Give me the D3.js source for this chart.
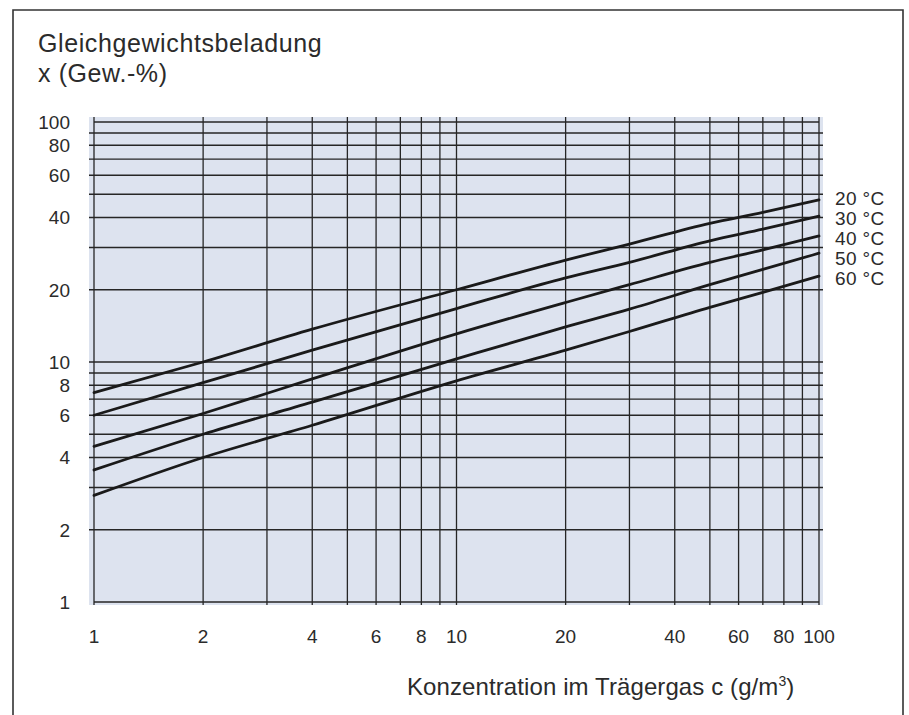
<!DOCTYPE html>
<html>
<head>
<meta charset="utf-8">
<script src="https://cdn.jsdelivr.net/npm/d3@7"></script>
<style>
  html, body { margin: 0; padding: 0; background: #fff; }
  svg { display: block; }
  text { font-family: "Liberation Sans", Arial, sans-serif; fill: #2b2b2b; }
</style>
</head>
<body>
<svg id="chart" width="909" height="715"></svg>
<script>
// Concentration in carrier gas (g/m³) at which the isotherms were read
const concentrations = [1, 2, 4, 10, 20, 30, 50, 70, 100];

// Equilibrium loading (wt.-%) per temperature
const temperatures = ["20 °C", "30 °C", "40 °C", "50 °C", "60 °C"];
const load20 = [7.45, 10.0, 13.7, 20.0, 26.6, 31.0, 37.8, 42.0, 47.4];
const load30 = [6.0, 8.2, 11.2, 16.7, 22.4, 26.0, 32.0, 35.8, 40.5];
const load40 = [4.45, 6.1, 8.5, 13.1, 17.7, 21.0, 26.0, 29.3, 33.5];
const load50 = [3.55, 5.0, 6.8, 10.3, 14.0, 16.6, 21.0, 24.3, 28.4];
const load60 = [2.78, 4.0, 5.45, 8.35, 11.2, 13.4, 16.9, 19.5, 22.8];
const loads = [load20, load30, load40, load50, load60];

// Grid lines and tick labels of the log-log paper
const xGrid = [1, 2, 3, 4, 5, 6, 7, 8, 9, 10, 20, 30, 40, 50, 60, 70, 80, 90, 100];
const yGrid = [1, 2, 3, 4, 5, 6, 7, 8, 9, 10, 20, 30, 40, 50, 60, 70, 80, 90, 100];
const xTickLabels = [1, 2, 4, 6, 8, 10, 20, 40, 60, 80, 100];
const yTickLabels = [1, 2, 4, 6, 8, 10, 20, 40, 60, 80, 100];

const svg = d3.select("#chart");

const x = d3.scaleLog().domain([1, 100]).range([94, 819]);
const y = d3.scaleLog().domain([1, 100]).range([602, 122]);

// outer frame (open at the bottom)
svg.append("path")
  .attr("d", "M13,725V10H903V725")
  .attr("fill", "none")
  .attr("stroke", "#333")
  .attr("stroke-width", 1.6);

// title
const title = svg.append("text")
  .style("font-size", "25px")
  .style("letter-spacing", "0.6px");
title.append("tspan").attr("x", 38).attr("y", 52).text("Gleichgewichtsbeladung");
title.append("tspan").attr("x", 38).attr("y", 82).text("x (Gew.-%)");

// paper background
const [x0, x1] = x.range();
const [y0, y1] = y.range();
svg.append("rect")
  .attr("x", x0 - 5).attr("y", y1 - 5)
  .attr("width", x1 - x0 + 9).attr("height", y0 - y1 + 8)
  .attr("fill", "#dde3ef");

const grid = svg.append("g").attr("stroke", "#262626").attr("stroke-width", 1.3);

// horizontal grid lines
grid.selectAll("line.h")
  .data(yGrid.filter(v => v !== 1 && v !== 100))
  .join("line")
  .attr("class", "h")
  .attr("x1", x0 - 5).attr("x2", x1 + 4)
  .attr("y1", d => y(d)).attr("y2", d => y(d));

// vertical grid lines
grid.selectAll("line.v")
  .data(xGrid)
  .join("line")
  .attr("class", "v")
  .attr("x1", d => x(d)).attr("x2", d => x(d))
  .attr("y1", y1 - 5).attr("y2", y0 + 3);

// top and bottom borders of the paper
grid.selectAll("line.b")
  .data([1, 100])
  .join("line")
  .attr("class", "b")
  .attr("x1", x0).attr("x2", x1)
  .attr("y1", d => y(d)).attr("y2", d => y(d));

// y tick labels
svg.append("g")
  .selectAll("text")
  .data(yTickLabels)
  .join("text")
  .attr("x", 70)
  .attr("y", d => y(d))
  .attr("dy", "0.36em")
  .attr("text-anchor", "end")
  .style("font-size", "19px")
  .text(d => d);

// x tick labels
svg.append("g")
  .selectAll("text")
  .data(xTickLabels)
  .join("text")
  .attr("x", d => x(d))
  .attr("y", 636)
  .attr("dy", "0.36em")
  .attr("text-anchor", "middle")
  .style("font-size", "19px")
  .text(d => d);

// isotherms
const line = d3.line()
  .x(d => x(d[0]))
  .y(d => y(d[1]))
  .curve(d3.curveMonotoneX);

svg.append("g")
  .selectAll("path")
  .data(loads)
  .join("path")
  .attr("d", vals => line(concentrations.map((c, i) => [c, vals[i]])))
  .attr("fill", "none")
  .attr("stroke", "#1a1a1a")
  .attr("stroke-width", 2.8)
  .attr("stroke-linecap", "round");

// temperature labels at the right end of the isotherms
const labelY0 = y(load20[load20.length - 1]) - 2;
svg.append("g")
  .selectAll("text")
  .data(temperatures)
  .join("text")
  .attr("x", 835)
  .attr("y", (d, i) => labelY0 + i * 20)
  .attr("dy", "0.36em")
  .style("font-size", "19px")
  .style("letter-spacing", "0.4px")
  .text(d => d);

// x axis title
const xt = svg.append("text")
  .attr("x", 407).attr("y", 695)
  .style("font-size", "24px")
  .style("letter-spacing", "0.1px");
xt.append("tspan").text("Konzentration im Trägergas c (g/m");
xt.append("tspan").attr("dy", -9).style("font-size", "14px").text("3");
xt.append("tspan").attr("dy", 9).text(")");
</script>
</body>
</html>
